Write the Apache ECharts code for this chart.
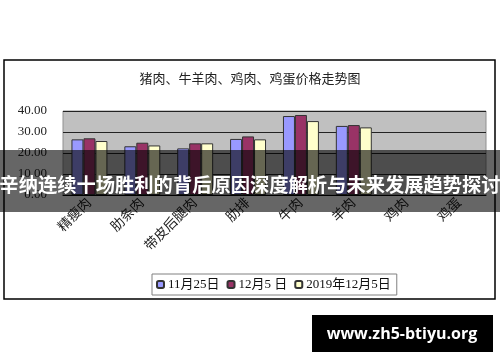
<!DOCTYPE html>
<html>
<head>
<meta charset="utf-8">
<script src="https://cdn.jsdelivr.net/npm/echarts@6/dist/echarts.min.js"></script>
<style>html,body{margin:0;padding:0;background:#fff;}#c{width:500px;height:362px;}</style>
</head>
<body>
<div id="c"></div>
<script>
var categories = ['精瘦肉', '肋条肉', '带皮后腿肉', '肋排', '牛肉', '羊肉', '鸡肉', '鸡蛋'];
var seriesNames = ['11月25日', '12月5 日', '2019年12月5日'];
var nov25 = [26.5, 23.2, 22.2, 26.7, 37.6, 32.9, null, null];
var dec5 = [27.0, 24.9, 24.6, 27.9, 38.1, 33.3, null, null];
var dec5y2019 = [25.7, 23.6, 24.6, 26.5, 35.2, 32.2, null, null];
var yTicks = [0, 10, 20, 30, 40];
var chartTitle = '猪肉、牛羊肉、鸡肉、鸡蛋价格走势图';
var bannerText = '辛纳连续十场胜利的背后原因深度解析与未来发展趋势探讨';
var watermark = 'www.zh5-btiyu.org';

var serifFont = '"Liberation Serif", "Noto Sans CJK SC", serif';
var colors = ['#9999ff', '#993366', '#ffffcc'];
var values = [nov25, dec5, dec5y2019];

var chart = echarts.init(document.getElementById('c'), null, {renderer: 'canvas'});
chart.setOption({
  backgroundColor: '#ffffff',
  animation: false,
  title: {
    text: chartTitle,
    left: 'center',
    top: 68,
    textStyle: {fontFamily: serifFont, fontSize: 13, fontWeight: 'normal', color: '#222'}
  },
  legend: {
    left: 152,
    top: 274,
    width: 250,
    itemWidth: 7,
    itemHeight: 7,
    itemGap: 7,
    padding: [4, 6, 4, 4],
    borderColor: '#808080',
    borderWidth: 1,
    textStyle: {fontFamily: serifFont, fontSize: 13, color: '#111', padding: [0, 0, 0, -1]},
    data: seriesNames
  },
  grid: {left: 63, right: 14, top: 111, bottom: 167, show: true, backgroundColor: '#c0c0c0', borderColor: '#909090', borderWidth: 1},
  xAxis: {
    type: 'category',
    data: categories,
    axisLine: {lineStyle: {color: '#000', width: 1}},
    axisTick: {show: false},
    axisLabel: {rotate: 45, fontFamily: serifFont, fontSize: 13.5, color: '#222', margin: 6, interval: 0}
  },
  yAxis: {
    type: 'value',
    min: yTicks[0],
    max: yTicks[yTicks.length - 1],
    interval: 10,
    axisLine: {show: false},
    axisTick: {show: false},
    splitLine: {lineStyle: {color: '#222', width: 1}},
    axisLabel: {fontFamily: serifFont, fontSize: 13, color: '#222', margin: 16, formatter: function (v) { return v.toFixed(2); }}
  },
  series: seriesNames.map(function (n, i) {
    return {
      name: n,
      type: 'bar',
      data: values[i],
      barGap: '0%',
      barCategoryGap: '32%',
      itemStyle: {color: colors[i], borderColor: '#333', borderWidth: 1}
    };
  }),
  graphic: [
    {type: 'rect', z: 50, shape: {x: 4, y: 60, width: 491, height: 239}, style: {fill: 'none', stroke: '#000', lineWidth: 1.5}},
    {type: 'rect', z: 100, shape: {x: 0, y: 150, width: 500, height: 62}, style: {fill: 'rgba(0,0,0,0.6)'}},
    {type: 'text', z: 101, x: 250, y: 185, style: {text: bannerText, fill: '#fff', font: 'bold 19.3px "Noto Sans CJK SC", sans-serif', textAlign: 'center', textVerticalAlign: 'middle'}},
    {type: 'rect', z: 100, shape: {x: 312, y: 315, width: 181, height: 37}, style: {fill: '#000'}},
    {type: 'text', z: 101, x: 402, y: 334, style: {text: watermark, fill: '#fff', font: 'bold 16px "Open Sans", "DejaVu Sans", sans-serif', textAlign: 'center', textVerticalAlign: 'middle'}}
  ]
});
</script>
</body>
</html>
